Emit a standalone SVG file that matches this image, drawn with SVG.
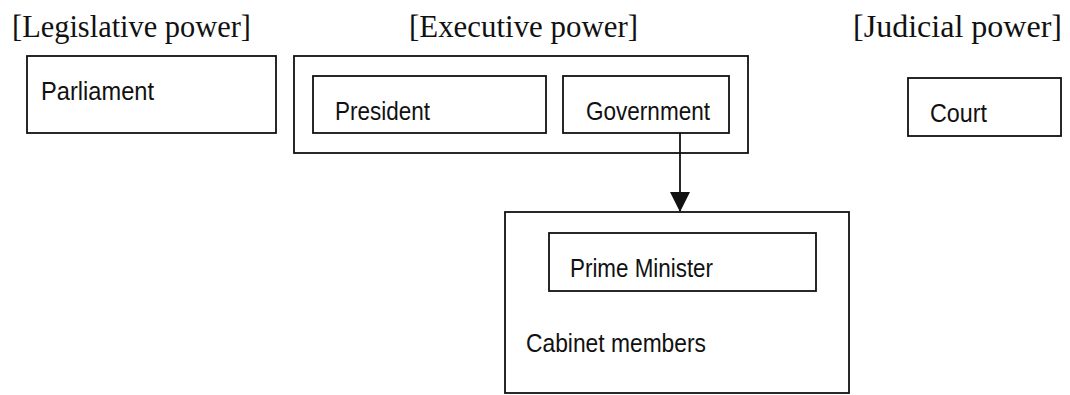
<svg xmlns="http://www.w3.org/2000/svg" width="1070" height="395" viewBox="0 0 1070 395">
<style>
.box{fill:none;stroke:#111;stroke-width:1.8}
.hdr{font-family:"Liberation Serif",serif;font-size:31px;fill:#111}
.lbl{font-family:"Liberation Sans",Arial,sans-serif;font-size:25px;fill:#111}
.conn{stroke:#111;stroke-width:1.8;fill:none}
</style>
<defs>
<marker id="arr" markerWidth="20" markerHeight="22" refX="19" refY="10" orient="auto" markerUnits="userSpaceOnUse" viewBox="0 0 20 20">
<path d="M0,0 L20,10 L0,20 Z" fill="#111"/>
</marker>
</defs>
<rect width="1070" height="395" fill="#fff"/>
<text class="hdr" x="12" y="37" textLength="239" lengthAdjust="spacingAndGlyphs">[Legislative power]</text>
<text class="hdr" x="409" y="37" textLength="229" lengthAdjust="spacingAndGlyphs">[Executive power]</text>
<text class="hdr" x="853" y="37" textLength="209" lengthAdjust="spacingAndGlyphs">[Judicial power]</text>
<g id="parliament">
<rect class="box" x="27" y="56" width="249" height="77"/>
<text class="lbl" x="41" y="100" textLength="113" lengthAdjust="spacingAndGlyphs">Parliament</text>
</g>
<g id="executive">
<rect class="box" x="294" y="56" width="454" height="97"/>
</g>
<g id="president">
<rect class="box" x="313" y="76" width="233" height="57"/>
<text class="lbl" x="335" y="120" textLength="95" lengthAdjust="spacingAndGlyphs">President</text>
</g>
<g id="government">
<rect class="box" x="563" y="76" width="166" height="57"/>
<text class="lbl" x="586" y="120" textLength="124" lengthAdjust="spacingAndGlyphs">Government</text>
</g>
<g id="court">
<rect class="box" x="908" y="78" width="153" height="58"/>
<text class="lbl" x="930" y="122" textLength="57" lengthAdjust="spacingAndGlyphs">Court</text>
</g>
<g id="cabinet">
<rect class="box" x="505" y="212" width="344" height="181"/>
<text class="lbl" x="526" y="352" textLength="180" lengthAdjust="spacingAndGlyphs">Cabinet members</text>
</g>
<g id="prime-minister">
<rect class="box" x="549" y="233" width="267" height="58"/>
<text class="lbl" x="570" y="277" textLength="143" lengthAdjust="spacingAndGlyphs">Prime Minister</text>
</g>
<g id="connectors">
<line class="conn" x1="680" y1="133" x2="680" y2="211" marker-end="url(#arr)"/>
</g>
</svg>
